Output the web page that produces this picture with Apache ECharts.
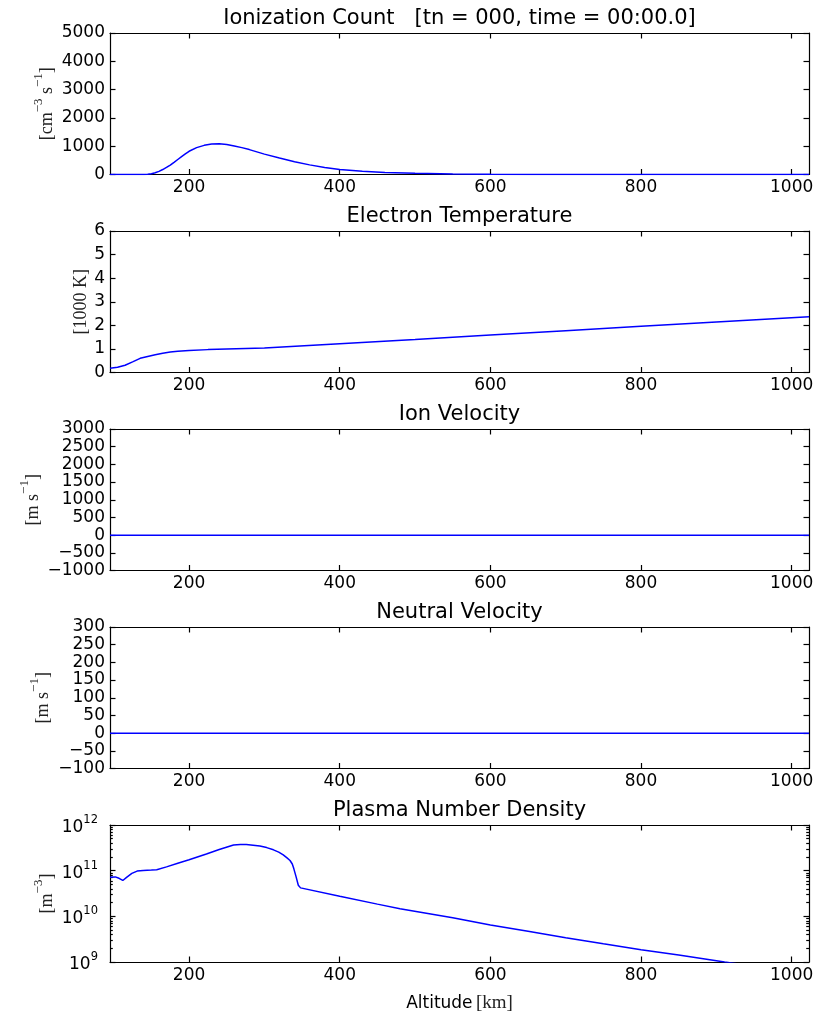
<!DOCTYPE html>
<html>
<head>
<meta charset="utf-8">
<script src="https://cdn.jsdelivr.net/npm/echarts@6/dist/echarts.min.js"></script>
<style>
  html, body { margin: 0; padding: 0; background: #fff; }
  #chart { width: 827px; height: 1014px; }
</style>
</head>
<body>
<div id="chart"></div>
<script>
// ---- Altitude profiles (altitude in km) ----

// Ionization count [cm^-3 s^-1]
const ionAlt   = [95, 120, 135, 140, 145, 150, 155, 160, 165, 170, 175, 180, 185, 190, 195, 200, 210, 220, 230, 240,
                  250, 260, 270, 280, 290, 300, 320, 340, 360, 380, 400, 430, 460, 500, 550, 600, 650, 700, 800, 900, 1023];
const ionCount = [0, 0, 0, 1, 8, 25, 60, 110, 175, 250, 335, 430, 530, 630, 725, 820, 950, 1030, 1075, 1085,
                  1060, 1010, 950, 880, 800, 720, 580, 450, 340, 250, 180, 115, 75, 42, 20, 9, 4, 1.5, 0, 0, 0];

// Electron temperature [1000 K]
const teAlt  = [95, 105, 115, 125, 135, 145, 155, 165, 175, 185, 200, 225, 250, 275, 300, 400, 500, 600, 700, 800, 900, 1023];
const teVals = [0.18, 0.22, 0.31, 0.45, 0.6, 0.68, 0.75, 0.82, 0.87, 0.90, 0.93, 0.97, 1.00, 1.02, 1.04, 1.22, 1.40, 1.59, 1.77, 1.96, 2.14, 2.36];

// Ion velocity [m s^-1]
const ionVelAlt  = [95, 1023];
const ionVelVals = [0, 0];

// Neutral velocity [m s^-1]
const neuVelAlt  = [95, 1023];
const neuVelVals = [0, 0];

// Plasma number density [m^-3]
const neAlt  = [95, 102, 107, 112, 117, 124, 131, 139, 150, 157, 170, 185, 200, 223, 240, 259, 268, 276, 285, 294, 303, 312,
                319, 325, 330, 334, 337, 339, 342, 345, 348, 400, 450, 480, 550, 600, 650, 700, 750, 800, 850, 911, 1023];
const neVals = [7.2e10, 7.3e10, 6.8e10, 6.1e10, 7.1e10, 8.7e10, 9.8e10, 1.01e11, 1.03e11, 1.05e11, 1.21e11, 1.45e11,
                1.73e11, 2.32e11, 2.9e11, 3.65e11, 3.72e11, 3.72e11, 3.62e11, 3.47e11, 3.2e11, 2.86e11,
                2.55e11, 2.21e11, 1.9e11, 1.67e11, 1.4e11, 1.11e11, 7.4e10,
                4.8e10, 4.2e10, 2.76e10, 1.85e10, 1.46e10, 9.3e9, 6.45e9, 4.7e9, 3.39e9, 2.5e9, 1.86e9, 1.42e9, 1.0e9, 5.4e8];

// Axis ticks
const altTicks      = [200, 400, 600, 800, 1000];
const densityMajor  = [1e9, 1e10, 1e11, 1e12];
const densityMinor  = [2e9, 3e9, 4e9, 5e9, 6e9, 7e9, 8e9, 9e9,
                       2e10, 3e10, 4e10, 5e10, 6e10, 7e10, 8e10, 9e10,
                       2e11, 3e11, 4e11, 5e11, 6e11, 7e11, 8e11, 9e11];

// Panel titles and unit labels
const titles = [
  'Ionization Count   [tn = 000, time = 00:00.0]',
  'Electron Temperature',
  'Ion Velocity',
  'Neutral Velocity',
  'Plasma Number Density'
];
const unitLabels = [
  '{t|[cm}{s|\u22123}{t| s}{s|\u22121}{t|]}',
  '{t|[1000 K]}',
  '{t|[m s}{s|\u22121}{t|]}',
  '{t|[m s}{s|\u22121}{t|]}',
  '{t|[m}{s|\u22123}{t|]}'
];

// ---- layout & styles ----
const SANS = 'DejaVu Sans';
const SERIF = 'Liberation Serif';
const X_MIN = 95, X_MAX = 1023;
const gridTops = [33, 231, 429, 627, 825];
const GRID_H = 141.5;
const frame = { color: '#000', width: 1.2 };
const tickText = { fontFamily: SANS, fontSize: 17, color: '#000' };
const unitRich = {
  t: { fontFamily: SERIF, fontSize: 18, color: '#222', lineHeight: 24, verticalAlign: 'bottom' },
  s: { fontFamily: SERIF, fontSize: 13, color: '#222', lineHeight: 13, verticalAlign: 'top' }
};
const plainNumber = v => String(v).replace('-', '\u2212');

const panels = [
  { alt: ionAlt,    vals: ionCount,   min: 0,     max: 5000, interval: 1000, gap: 54 },
  { alt: teAlt,     vals: teVals,     min: 0,     max: 6,    interval: 1,    gap: 19.5 },
  { alt: ionVelAlt, vals: ionVelVals, min: -1000, max: 3000, interval: 500,  gap: 68 },
  { alt: neuVelAlt, vals: neuVelVals, min: -100,  max: 300,  interval: 50,   gap: 57.5 },
  { alt: neAlt,     vals: neVals,     min: 1e9,   max: 1e12, log: true,      gap: 54 }
];

const option = {
  animation: false,
  backgroundColor: '#fff',
  title: [], grid: [], xAxis: [], yAxis: [], series: []
};

panels.forEach((p, i) => {
  option.title.push({
    text: titles[i],
    left: 459.5, top: gridTops[i] - 25, padding: 0,
    textAlign: 'center',
    textStyle: { fontFamily: SANS, fontSize: 21, fontWeight: 'normal', color: '#000' }
  });
  option.grid.push({ left: 110, right: 18, top: gridTops[i], height: GRID_H });

  // bottom (labelled) and top (ticks only) altitude axes
  const xIdx = option.xAxis.length;
  const xBase = {
    gridIndex: i, type: 'value', min: X_MIN, max: X_MAX,
    axisLine: { show: true, onZero: false, lineStyle: frame },
    axisTick: { show: true, inside: true, length: 5.5, customValues: altTicks, lineStyle: frame },
    splitLine: { show: false }
  };
  const xBottom = Object.assign({}, xBase, {
    position: 'bottom',
    axisLabel: Object.assign({ show: true, customValues: altTicks, margin: 5, formatter: plainNumber }, tickText)
  });
  if (i === panels.length - 1) {
    xBottom.name = '{a|Altitude} {k|[km]}';
    xBottom.nameLocation = 'middle';
    xBottom.nameGap = 32;
    xBottom.nameMoveOverlap = false;
    xBottom.nameTextStyle = {
      rich: {
        a: { fontFamily: SANS, fontSize: 17, color: '#000' },
        k: { fontFamily: SERIF, fontSize: 19, color: '#222' }
      }
    };
  }
  option.xAxis.push(xBottom);
  option.xAxis.push(Object.assign({}, xBase, { position: 'top', axisLabel: { show: false } }));

  // left (labelled) and right (ticks only) value axes
  const yIdx = option.yAxis.length;
  const yBase = {
    gridIndex: i,
    type: p.log ? 'log' : 'value',
    min: p.min, max: p.max,
    axisLine: { show: true, onZero: false, lineStyle: frame },
    axisTick: { show: true, inside: true, length: 5.5, lineStyle: frame },
    splitLine: { show: false }
  };
  if (p.log) {
    yBase.logBase = 10;
    yBase.axisTick.customValues = densityMajor;
  } else {
    yBase.interval = p.interval;
  }
  const yLeft = Object.assign({}, yBase, {
    position: 'left',
    name: unitLabels[i], nameLocation: 'middle', nameGap: p.gap, nameRotate: 90,
    nameMoveOverlap: false,
    nameTextStyle: { rich: unitRich },
    axisLabel: Object.assign({ show: true, margin: 5 }, tickText)
  });
  if (p.log) {
    yLeft.axisLabel.customValues = densityMajor;
    yLeft.axisLabel.margin = 12;
    yLeft.axisLabel.formatter = v => '{b|10}{e|' + Math.round(Math.log10(v)) + '}';
    yLeft.axisLabel.rich = {
      b: { fontFamily: SANS, fontSize: 17, color: '#000', lineHeight: 22, verticalAlign: 'bottom' },
      e: { fontFamily: SANS, fontSize: 11.5, color: '#000', lineHeight: 12, verticalAlign: 'top' }
    };
  } else {
    yLeft.axisLabel.formatter = plainNumber;
  }
  option.yAxis.push(yLeft);
  option.yAxis.push(Object.assign({}, yBase, { position: 'right', axisLabel: { show: false } }));

  // minor decade ticks on both sides of the density panel
  if (p.log) {
    ['left', 'right'].forEach(side => {
      option.yAxis.push({
        gridIndex: i, type: 'log', logBase: 10, min: p.min, max: p.max, position: side,
        axisLine: { show: false },
        axisTick: { show: true, inside: true, length: 2.8, customValues: densityMinor, lineStyle: frame },
        axisLabel: { show: false },
        splitLine: { show: false }
      });
    });
  }

  option.series.push({
    type: 'line',
    xAxisIndex: xIdx,
    yAxisIndex: yIdx,
    data: p.alt.map((a, k) => [a, p.vals[k]]),
    showSymbol: false,
    smooth: false,
    clip: true,
    lineStyle: { color: '#0000ff', width: 1.5 }
  });
});

const chart = echarts.init(document.getElementById('chart'), null, { renderer: 'canvas' });
chart.setOption(option);
</script>
</body>
</html>
